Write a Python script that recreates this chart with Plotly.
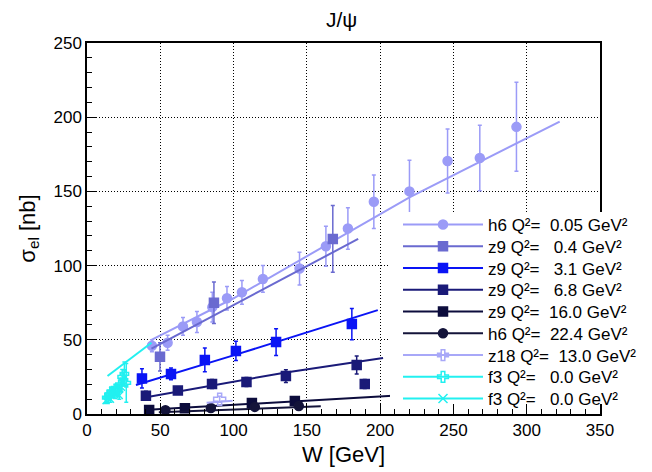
import plotly.graph_objects as go

# ---------------- data ----------------
# h6 Q2 = 0.05
h6_005_W = [44.3, 55, 65.5, 75, 85.5, 95.5, 105.7, 120, 145, 163, 178, 195.7, 220, 246, 268, 293]
h6_005_S = [46, 48, 59, 62, 72, 78, 82, 91, 98, 113, 125, 143, 150, 170.5, 172.5, 193.5]
h6_005_E = [4, 5, 6, 7, 10, 8, 8, 9, 11, 13.5, 14, 18, 21, 21.5, 22, 30]
h6_005_fitW = [44, 100, 220, 322.5]
h6_005_fitS = [50, 78, 146, 197]

# z9 Q2 = 0.4
z9_04_W = [49.8, 86.6, 167.7]
z9_04_S = [38.5, 75, 118]
z9_04_E = [9.5, 14, 22.5]
z9_04_fitW = [44, 100, 185]
z9_04_fitS = [44, 73.5, 118]

# z9 Q2 = 3.1
z9_31_W = [37.5, 57.3, 80.4, 101.6, 129, 180.7]
z9_31_S = [24, 27, 36.4, 42.5, 48.5, 60.6]
z9_31_E = [6.5, 4, 8, 6.5, 9, 10.5]
z9_31_fitW = [33.4, 101.6, 198.4]
z9_31_fitS = [19.5, 40, 70]

# z9 Q2 = 6.8
z9_68_W = [40.2, 62, 85.3, 108.8, 135.7, 184, 189.5]
z9_68_S = [12.3, 15.8, 20.2, 21.6, 25.6, 33, 20.2]
z9_68_E = [3, 2.5, 3, 3, 4.3, 6, 3]
z9_68_fitW = [37.5, 135.7, 202]
z9_68_fitS = [10.8, 28, 37.7]

# z9 Q2 = 16.0
z9_16_W = [42.4, 66.8, 112.5, 141.8]
z9_16_S = [2.7, 3.8, 7.4, 8.8]
z9_16_E = [1.2, 1.2, 1.5, 1.8]
z9_16_fitW = [39, 208.5]
z9_16_fitS = [2.7, 12.3]

# h6 Q2 = 22.4
h6_224_W = [53.5, 84.5, 114.5, 144.5]
h6_224_S = [2.5, 4, 4.8, 5.4]
h6_224_E = [0.8, 1, 1.2, 1.4]
h6_224_fitW = [49, 159.5]
h6_224_fitS = [1.2, 5.2]

# z18 Q2 = 13.0
z18_W = [90.5]
z18_S = [10]
z18_E = [2]
z18_fitW = [81.6, 99.3]
z18_fitS = [7.6, 9.0]

# f3 Q2 = 0.0 (open cross)
f3a_W = [13.5, 15, 16.5, 18, 19.5, 21, 22.5, 24, 25.5, 26.8]
f3a_S = [11, 13, 15, 14, 17, 16, 20, 25, 27, 21]
f3a_E = [3, 3, 3, 3, 3, 4, 4, 5, 8, 13]
f3_fitW = [14, 44]
f3_fitS = [25.6, 48]

# f3 Q2 = 0.0 (x)
f3b_W = [13, 14.5, 16, 17.5, 19, 20.5, 22, 23.5, 25]
f3b_S = [9, 12, 10, 16, 13, 15, 12.5, 18, 22]
f3b_E = [2, 2, 2, 2.5, 2.5, 2.5, 2.5, 3, 3]

x_ticks = [0, 50, 100, 150, 200, 250, 300, 350]
y_ticks = [0, 50, 100, 150, 200, 250]

NB = "\u00a0"
series = [
    # label, W, S, E, fitW, fitS, color, symbol, size
    (f"h6 Q\u00b2={NB} 0.05 GeV\u00b2", h6_005_W, h6_005_S, h6_005_E, h6_005_fitW, h6_005_fitS, "#9b9bf7", "circle", 9),
    (f"z9 Q\u00b2={NB}{NB} 0.4 GeV\u00b2", z9_04_W, z9_04_S, z9_04_E, z9_04_fitW, z9_04_fitS, "#6a6ad0", "square", 9),
    (f"z9 Q\u00b2={NB}{NB} 3.1 GeV\u00b2", z9_31_W, z9_31_S, z9_31_E, z9_31_fitW, z9_31_fitS, "#0a14f5", "square", 9),
    (f"z9 Q\u00b2={NB}{NB} 6.8 GeV\u00b2", z9_68_W, z9_68_S, z9_68_E, z9_68_fitW, z9_68_fitS, "#1a1a78", "square", 9),
    (f"z9 Q\u00b2={NB} 16.0 GeV\u00b2", z9_16_W, z9_16_S, z9_16_E, z9_16_fitW, z9_16_fitS, "#0c0c3c", "square", 9),
    (f"h6 Q\u00b2={NB} 22.4 GeV\u00b2", h6_224_W, h6_224_S, h6_224_E, h6_224_fitW, h6_224_fitS, "#14143a", "circle", 9),
    (f"z18 Q\u00b2={NB} 13.0 GeV\u00b2", z18_W, z18_S, z18_E, z18_fitW, z18_fitS, "#a8a8f8", "cross-open", 10),
    (f"f3 Q\u00b2={NB}{NB} 0.0 GeV\u00b2", f3a_W, f3a_S, f3a_E, f3_fitW, f3_fitS, "#22f0f0", "cross-open", 7),
    (f"f3 Q\u00b2={NB}{NB} 0.0 GeV\u00b2", f3b_W, f3b_S, f3b_E, None, None, "#22f0f0", "x-thin-open", 7),
]

fig = go.Figure()
FONT = "Liberation Sans, Arial, Helvetica, sans-serif"

# plot-area geometry in pixels (used to place legend rows)
PLOT_TOP, PLOT_BOTTOM = 43, 414
PLOT_LEFT, PLOT_RIGHT = 87, 600
def py(px):
    return (PLOT_BOTTOM - px) / (PLOT_BOTTOM - PLOT_TOP)
def pxr(px):
    return (px - PLOT_LEFT) / (PLOT_RIGHT - PLOT_LEFT)

for label, W, S, E, fW, fS, col, sym, sz in series:
    if fW is not None:
        fig.add_trace(go.Scatter(x=fW, y=fS, mode="lines", line=dict(color=col, width=2),
                                 showlegend=False, hoverinfo="skip"))
    fig.add_trace(go.Scatter(
        x=W, y=S, mode="markers",
        marker=dict(color=col, symbol=sym, size=sz, line=dict(color=col, width=1.5)),
        error_y=dict(type="data", array=E, visible=True, color=col, thickness=1.5, width=2),
        showlegend=False))

legend_layouts = {}
ROW0, ROWSTEP = 225, 21.75
for i, (label, W, S, E, fW, fS, col, sym, sz) in enumerate(series):
    lname = "legend" if i == 0 else f"legend{i+1}"
    fig.add_trace(go.Scatter(
        x=[None], y=[None], mode="lines+markers", name=label, legend=lname,
        line=dict(color=col, width=2),
        marker=dict(color=col, symbol=sym, size=9, line=dict(color=col, width=1.5))))
    legend_layouts[lname] = dict(
        x=pxr(398), xanchor="left", y=py(ROW0 + i * ROWSTEP), yanchor="middle",
        bgcolor="rgba(0,0,0,0)", borderwidth=0, itemwidth=80,
        font=dict(size=17, color="black", family=FONT))

axis_common = dict(
    showline=True, linecolor="black", linewidth=1.5, mirror=True,
    ticks="inside", ticklen=10, tickwidth=1, tickcolor="black",
    minor=dict(ticks="inside", ticklen=5, tickcolor="black", dtick=10, showgrid=False),
    showgrid=True, gridcolor="black", griddash="1px,2px", gridwidth=1,
    zeroline=False, tickfont=dict(size=17, color="black", family=FONT),
)

fig.update_layout(
    width=652, height=472,
    margin=dict(l=87, r=52, t=43, b=58, autoexpand=False),
    paper_bgcolor="white", plot_bgcolor="white",
    font=dict(family=FONT, color="black"),
    title=dict(text="J/\u03c8", x=0.524, xanchor="center", y=0.958, yanchor="middle",
               font=dict(size=21, color="black", family=FONT)),
    xaxis=dict(range=[0, 350], tickvals=x_ticks,
               title=dict(text="W [GeV]", font=dict(size=22), standoff=7), **axis_common),
    yaxis=dict(range=[0, 250], tickvals=y_ticks,
               title=dict(text="\u03c3<sub>el</sub> [nb]", font=dict(size=22), standoff=12), **axis_common),
    showlegend=True,
    # white legend panel (covers the grid behind the legend, as in the reference)
    shapes=[dict(type="rect", xref="paper", yref="paper", layer="above",
                 x0=pxr(390), x1=pxr(648), y0=py(404), y1=py(212),
                 fillcolor="white", line=dict(width=0))],
    **legend_layouts,
)

fig.write_html("out.html")
